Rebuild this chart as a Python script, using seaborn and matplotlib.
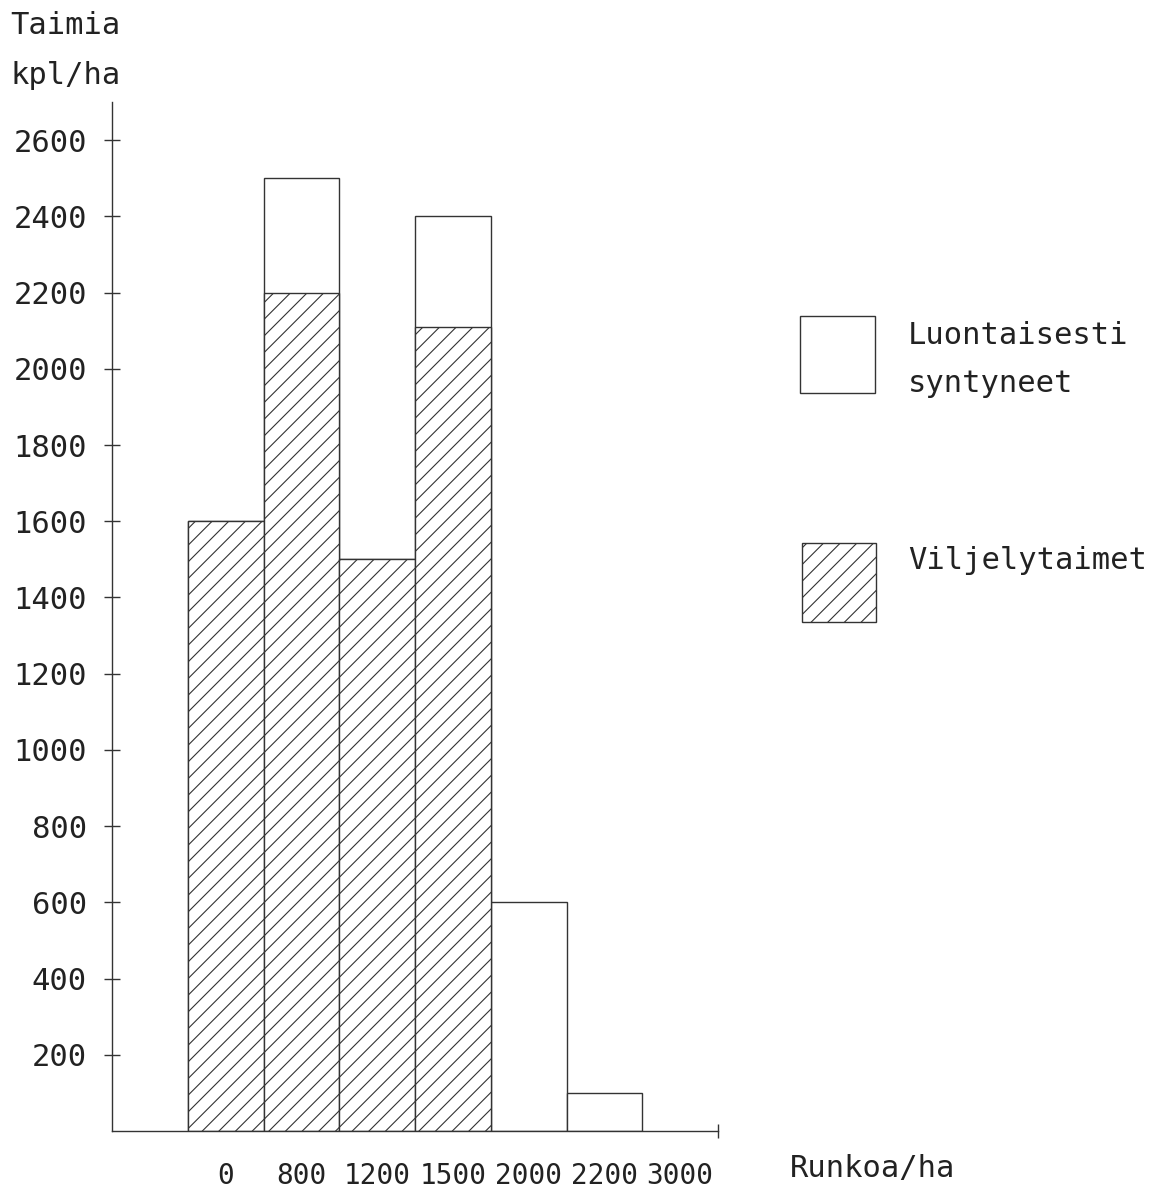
import matplotlib
matplotlib.use("Agg")
import matplotlib.pyplot as plt
import seaborn as sns
import pandas as pd
from matplotlib.patches import Rectangle

# Data
categories = ["0", "800", "1200", "1500", "2000", "2200", "3000"]
viljelytaimet = [1600, 2200, 1500, 2110, 0, 0, 0]
luontaiset = [0, 300, 0, 290, 600, 100, 0]
yticks = [200, 400, 600, 800, 1000, 1200, 1400, 1600, 1800, 2000, 2200, 2400, 2600]

totals = [a + b for a, b in zip(viljelytaimet, luontaiset)]
df = pd.DataFrame({"Runkoa": categories, "total": totals, "vilj": viljelytaimet})

sns.set_style("white")
plt.rcParams["font.family"] = ["DejaVu Sans Mono", "DejaVu Sans"]
plt.rcParams["hatch.linewidth"] = 0.8
plt.rcParams["hatch.color"] = "#444444"

ink = "#333333"
fig = plt.figure(figsize=(11.67, 11.88), dpi=100)
ax = fig.add_axes([112 / 1167, 57 / 1188, 606 / 1167, 1029 / 1188])

sns.barplot(data=df, x="Runkoa", y="total", order=categories, width=1.0,
            color="white", edgecolor=ink, linewidth=1.0, saturation=1, ax=ax)
n0 = len(ax.patches)
sns.barplot(data=df, x="Runkoa", y="vilj", order=categories, width=1.0,
            color="white", edgecolor=ink, linewidth=1.0, saturation=1, ax=ax)
for p in ax.patches[n0:]:
    p.set_hatch("//")
for p in ax.patches:
    if p.get_height() == 0:
        p.set_visible(False)

ax.set_xlim(-1.5, 6.5)
ax.set_ylim(0, 2700)
ax.set_xlabel("")
ax.set_ylabel("")
for s in ["top", "right"]:
    ax.spines[s].set_visible(False)
for s in ["left", "bottom"]:
    ax.spines[s].set_color(ink)
    ax.spines[s].set_linewidth(1.0)

ax.set_yticks(yticks)
ax.set_yticklabels([str(t) for t in yticks], fontsize=22, color="#222222")
ax.tick_params(axis="y", left=True, direction="inout", length=12, width=1.0, color=ink, pad=12)
ax.set_xticks(range(len(categories)))
ax.set_xticklabels(categories, fontsize=20, color="#222222")
ax.tick_params(axis="x", length=0, pad=22)
ax.set_xticks([6.5], minor=True)
ax.tick_params(axis="x", which="minor", bottom=True, direction="inout", length=10, width=1.0, color=ink)

fig.text(10 / 1167, 1 - 25 / 1188, "Taimia", fontsize=22, color="#222222", va="center", ha="left")
fig.text(10 / 1167, 1 - 75 / 1188, "kpl/ha", fontsize=22, color="#222222", va="center", ha="left")
fig.text(790 / 1167, 1 - 1168 / 1188, "Runkoa/ha", fontsize=22, color="#222222", va="center", ha="left")

# Legend
fig.add_artist(Rectangle((800 / 1167, 1 - 393 / 1188), 75 / 1167, 77 / 1188,
                         transform=fig.transFigure, facecolor="white", edgecolor=ink, linewidth=1.0))
fig.add_artist(Rectangle((802 / 1167, 1 - 622 / 1188), 74 / 1167, 79 / 1188,
                         transform=fig.transFigure, facecolor="white", edgecolor=ink, linewidth=1.0,
                         hatch="//"))
fig.text(908 / 1167, 1 - 335 / 1188, "Luontaisesti", fontsize=22, color="#222222", va="center", ha="left")
fig.text(908 / 1167, 1 - 383 / 1188, "syntyneet", fontsize=22, color="#222222", va="center", ha="left")
fig.text(908 / 1167, 1 - 560 / 1188, "Viljelytaimet", fontsize=22, color="#222222", va="center", ha="left")

fig.savefig("out.png", dpi=100, facecolor="white")
